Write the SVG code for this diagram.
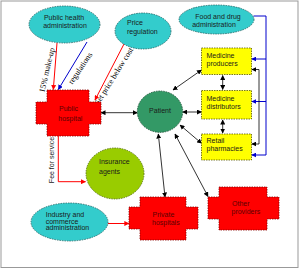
<svg xmlns="http://www.w3.org/2000/svg" width="300" height="269" viewBox="0 0 300 269">
<style>
.tl{font-family:"Liberation Sans",Arial,sans-serif;font-size:7px;fill:#1a1a1a}
.tr{font-family:"Liberation Serif","Times New Roman",serif;font-size:8.2px;fill:#000}
.teal{fill:#33CCCC;stroke:#1d5f5f;stroke-width:0.8;stroke-dasharray:1.5,1}
.yel{fill:#FFFF00;stroke:#555500;stroke-width:0.8;stroke-dasharray:1.5,1}
.red{fill:#FF0000;stroke:#8a0000;stroke-width:0.8;stroke-dasharray:1.5,1}
.rt{font-family:"Liberation Sans",Arial,sans-serif;font-size:7px;fill:#5a0000}
.k{stroke:#000;stroke-width:0.8;fill:none}
.b{stroke:#0000CC;stroke-width:1;fill:none}
.r{stroke:#FF0000;stroke-width:1;fill:none}
</style>
<defs>
<marker id="ak" viewBox="0 0 10 10" refX="9" refY="5" markerWidth="5" markerHeight="5" markerUnits="userSpaceOnUse" orient="auto-start-reverse"><path d="M0,0 L10,5 L0,10 Z" fill="#000"/></marker>
<marker id="ab" viewBox="0 0 10 10" refX="9" refY="5" markerWidth="5" markerHeight="5" markerUnits="userSpaceOnUse" orient="auto"><path d="M0,0 L10,5 L0,10 Z" fill="#0000CC"/></marker>
<marker id="ar" viewBox="0 0 10 10" refX="9" refY="5" markerWidth="5" markerHeight="5" markerUnits="userSpaceOnUse" orient="auto"><path d="M0,0 L10,5 L0,10 Z" fill="#FF0000"/></marker>
</defs>
<rect x="1" y="1" width="297" height="266.5" fill="#fff" stroke="#999" stroke-width="1"/>

<g id="connectors">
<line class="r" x1="57" y1="43" x2="53.3" y2="89.5" marker-end="url(#ar)"/>
<line class="b" x1="87" y1="42" x2="58.3" y2="89.5" marker-end="url(#ab)"/>
<line class="r" x1="124" y1="44" x2="95" y2="100" marker-end="url(#ar)"/>
<path class="r" d="M58.3,136 V181.7 H85.5" marker-end="url(#ar)"/>
<line class="r" x1="108" y1="223.5" x2="128.8" y2="223.5" marker-end="url(#ar)"/>
<path class="b" d="M253.5,16 H266 V155 H251.8" marker-end="url(#ab)"/>
<line class="b" x1="266" y1="59" x2="251.8" y2="59" marker-end="url(#ab)"/>
<line class="b" x1="266" y1="101.5" x2="251.8" y2="101.5" marker-end="url(#ab)"/>
<path class="k" d="M251.8,69.5 H259 V144 H251.8" marker-start="url(#ak)" marker-end="url(#ak)"/>
<line class="k" x1="222.7" y1="75.5" x2="222.7" y2="89.5" marker-start="url(#ak)" marker-end="url(#ak)"/>
<line class="k" x1="222.7" y1="120" x2="222.7" y2="133" marker-start="url(#ak)" marker-end="url(#ak)"/>
<line class="k" x1="101" y1="112.7" x2="137.3" y2="112.7" marker-start="url(#ak)" marker-end="url(#ak)"/>
<line class="k" x1="173" y1="90" x2="201.5" y2="70" marker-start="url(#ak)" marker-end="url(#ak)"/>
<line class="k" x1="182.7" y1="112" x2="201.5" y2="112" marker-start="url(#ak)" marker-end="url(#ak)"/>
<line class="k" x1="180" y1="125" x2="201.5" y2="143.3" marker-start="url(#ak)" marker-end="url(#ak)"/>
<line class="k" x1="158.3" y1="134" x2="165" y2="197" marker-start="url(#ak)" marker-end="url(#ak)"/>
<line class="k" x1="175" y1="134" x2="208" y2="196.5" marker-start="url(#ak)" marker-end="url(#ak)"/>
<text class="tr" font-size="8.5" transform="translate(46.5,70) rotate(-77)" text-anchor="middle" y="3">15% make-up</text>
<text class="tr" transform="translate(80,68) rotate(-56)" text-anchor="middle" y="3">regulations</text>
<text class="tr" font-size="7.9" transform="translate(113.5,76) rotate(-58)" text-anchor="middle" y="3">Set price below cost</text>
<text class="tl" font-size="6.6" transform="translate(51.7,160) rotate(-90)" text-anchor="middle" y="2.4">Fee for service</text>
</g>

<g id="public-health">
<ellipse class="teal" cx="64.5" cy="24.5" rx="35.5" ry="18.5"/>
<text class="tl" x="64" y="19.7" text-anchor="middle">Public health</text>
<text class="tl" x="65" y="27.6" text-anchor="middle">administration</text>
</g>
<g id="price-regulation">
<ellipse class="teal" cx="143" cy="31" rx="28" ry="18"/>
<text class="tl" x="127" y="25.2">Price</text>
<text class="tl" x="127" y="34.2">regulation</text>
</g>
<g id="food-drug">
<ellipse class="teal" cx="216.5" cy="19.5" rx="37.5" ry="14.5"/>
<text class="tl" x="218" y="18.5" text-anchor="middle">Food and drug</text>
<text class="tl" x="214" y="26.5" text-anchor="middle">administration</text>
</g>
<g id="medicine-producers">
<rect class="yel" x="201.5" y="48" width="50" height="26.5"/>
<text class="tl" x="206.5" y="57.5">Medicine</text>
<text class="tl" x="206.5" y="65.5">producers</text>
</g>
<g id="medicine-distributors">
<rect class="yel" x="201.5" y="90.5" width="50" height="28.5"/>
<text class="tl" x="206.5" y="100.5">Medicine</text>
<text class="tl" x="206.5" y="108.5">distributors</text>
</g>
<g id="retail-pharmacies">
<rect class="yel" x="201.5" y="134" width="50" height="26"/>
<text class="tl" x="206.5" y="142.5">Retail</text>
<text class="tl" x="206.5" y="150.5">pharmacies</text>
</g>
<g id="patient">
<ellipse cx="160" cy="111.7" rx="22.7" ry="20.7" fill="#339966" stroke="#1b4d33" stroke-width="0.8" stroke-dasharray="1.5,1"/>
<text class="tl" x="160" y="112.5" text-anchor="middle">Patient</text>
</g>
<g id="public-hospital">
<path class="red" d="M47,90 H89 V102 H101 V124 H89 V136 H47 V124 H36 V102 H47 Z"/>
<text class="rt" x="59" y="110.8">Public</text>
<text class="rt" x="58.3" y="120.8">hospital</text>
</g>
<g id="insurance-agents">
<ellipse cx="115" cy="173.5" rx="29" ry="25.5" fill="#99CC00" stroke="#4d6600" stroke-width="0.8" stroke-dasharray="1.5,1"/>
<text class="tl" x="99" y="163.5">Insurance</text>
<text class="tl" x="99" y="174">agents</text>
</g>
<g id="industry-commerce">
<ellipse class="teal" cx="69.5" cy="222" rx="38.5" ry="19"/>
<text class="tl" x="45.7" y="216.5">Industry and</text>
<text class="tl" x="45.7" y="223.5">commerce</text>
<text class="tl" x="45.7" y="230.3">administration</text>
</g>
<g id="private-hospitals">
<path class="red" d="M140,197 H186 V207 H198 V229 H186 V240 H140 V229 H129 V207 H140 Z"/>
<text class="rt" x="152.5" y="216.8">Private</text>
<text class="rt" x="152" y="224.8">hospitals</text>
</g>
<g id="other-providers">
<path class="red" d="M219,187 H267 V197 H279 V219 H267 V230 H219 V219 H208 V197 H219 Z"/>
<text class="rt" x="232" y="205.8">Other</text>
<text class="rt" x="231.5" y="214.2">providers</text>
</g>
</svg>
